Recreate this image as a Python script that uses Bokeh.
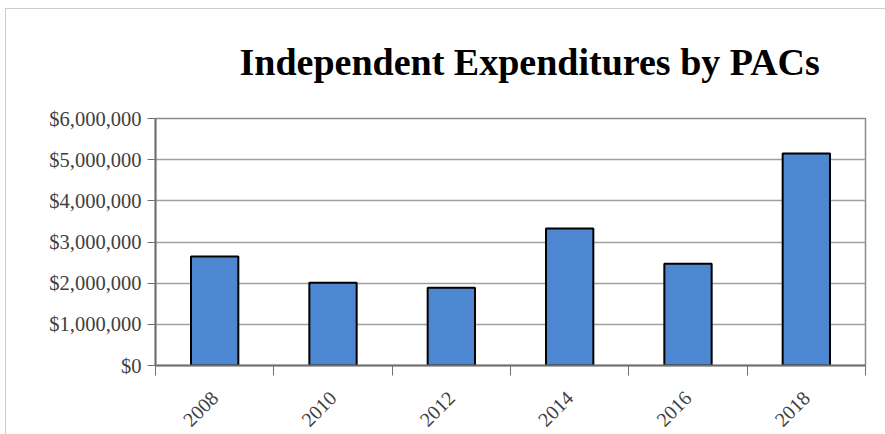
from bokeh.plotting import figure
from bokeh.embed import file_html
from bokeh.resources import INLINE
from bokeh.models import FixedTicker, NumeralTickFormatter, ColumnDataSource, Range1d

title_text = "Independent Expenditures by PACs"
years = ["2008", "2010", "2012", "2014", "2016", "2018"]
amounts = [2650000, 2010000, 1890000, 3330000, 2470000, 5150000]
y_ticks = [0, 1000000, 2000000, 3000000, 4000000, 5000000, 6000000]

xpos = [i + 0.5 for i in range(len(years))]
src = ColumnDataSource(dict(x=xpos, top=amounts, year=years))

p = figure(width=885, height=434, output_backend="svg", toolbar_location=None,
           x_range=Range1d(0, len(years)), y_range=Range1d(0, 6000000),
           frame_width=710, frame_height=247,
           min_border_left=155, min_border_right=20, min_border_top=118, min_border_bottom=69)

p.vbar(x="x", top="top", width=0.4, source=src, fill_color="#4d86d1",
       line_color="#000000", line_width=2)

p.title.text = title_text
p.title.text_font = "Liberation Serif"
p.title.text_font_size = "38px"
p.title.text_font_style = "bold"
p.title.text_color = "#000000"
p.title.align = "left"
p.title.offset = 84
p.title.standoff = 71

p.outline_line_color = "#8a8a8a"
p.outline_line_width = 1.5

p.yaxis.ticker = FixedTicker(ticks=y_ticks)
p.yaxis.formatter = NumeralTickFormatter(format="$0,0")
p.yaxis.major_label_text_font = "Liberation Serif"
p.yaxis.major_label_text_font_size = "20.5px"
p.yaxis.major_label_text_color = "#404040"
p.yaxis.axis_line_color = "#707070"
p.yaxis.axis_line_width = 2
p.yaxis.major_tick_line_color = "#707070"
p.yaxis.major_tick_out = 8
p.yaxis.major_tick_in = 0
p.yaxis.minor_tick_line_color = None
p.yaxis.major_label_standoff = 6

p.xaxis.ticker = FixedTicker(ticks=xpos, minor_ticks=list(range(len(years) + 1)))
p.xaxis.major_label_overrides = {x: y for x, y in zip(xpos, years)}
p.xaxis.major_label_orientation = 0.785
p.xaxis.major_label_text_font = "Liberation Serif"
p.xaxis.major_label_text_font_size = "20px"
p.xaxis.major_label_text_color = "#404040"
p.xaxis.axis_line_color = "#707070"
p.xaxis.axis_line_width = 2
p.xaxis.major_tick_line_color = None
p.xaxis.minor_tick_line_color = "#707070"
p.xaxis.minor_tick_out = 10
p.xaxis.minor_tick_in = 0
p.xaxis.major_label_standoff = 19

p.xgrid.grid_line_color = None
p.ygrid.ticker = FixedTicker(ticks=y_ticks)
p.ygrid.grid_line_color = "#a0a0a0"
p.ygrid.grid_line_width = 1.5

p.border_fill_alpha = 0
p.styles = {"background": "linear-gradient(#cccccc,#cccccc) 5px 8px / 100% 1px no-repeat, "
                          "linear-gradient(#cccccc,#cccccc) 5px 8px / 1px 100% no-repeat, #ffffff"}

open("out.html", "w").write(file_html(p, INLINE))
